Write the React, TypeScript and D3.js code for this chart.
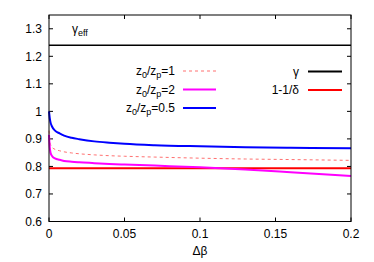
import React from 'react';
import * as d3 from 'd3';

// Δβ sample points and the three gamma_eff curves
const deltaBeta = [0, 0.0005, 0.001, 0.002, 0.004, 0.007, 0.01, 0.015, 0.02, 0.03, 0.04, 0.05, 0.07, 0.1, 0.13, 0.16, 0.2];
const ratio1 = [0.93, 0.895, 0.88, 0.87, 0.862, 0.857, 0.853, 0.849, 0.846, 0.842, 0.839, 0.837, 0.834, 0.83, 0.827, 0.825, 0.822];
const ratio2 = [0.915, 0.87, 0.85, 0.838, 0.829, 0.824, 0.82, 0.817, 0.815, 0.812, 0.809, 0.807, 0.803, 0.797, 0.789, 0.779, 0.765];
const ratio05 = [1.0, 0.975, 0.96, 0.945, 0.93, 0.92, 0.912, 0.904, 0.899, 0.891, 0.886, 0.882, 0.877, 0.873, 0.87, 0.868, 0.866];
const gammaValue = 1.24;
const oneMinusInvDelta = 0.793;

const xTicks = [0, 0.05, 0.1, 0.15, 0.2];
const yTicks = [0.6, 0.7, 0.8, 0.9, 1, 1.1, 1.2, 1.3];

const W = 374;
const H = 262;
const margin = { top: 15, right: 23, bottom: 40.5, left: 49 };
const font = '"Liberation Sans", Arial, sans-serif';

const App = () => {
  const x = d3.scaleLinear().domain([0, 0.2]).range([margin.left, W - margin.right]);
  const y = d3.scaleLinear().domain([0.6, 1.35]).range([H - margin.bottom, margin.top]);
  const [x0, x1] = x.range();
  const [y0, y1] = y.range();

  const line = d3.line<number>()
    .x((_, i) => x(deltaBeta[i]))
    .y(d => y(d))
    .curve(d3.curveMonotoneX);

  const fmt = (v: number) => (v === 0 ? '0' : d3.format('')(+v.toFixed(2)));

  // left legend entries (curves), right legend entries (constants)
  const leftLegend = [
    { sub: '1', color: '#ff7070', width: 1, dash: '3,3', yy: 71 },
    { sub: '2', color: '#ff00ff', width: 2, dash: null, yy: 89.5 },
    { sub: '0.5', color: '#0000ff', width: 2, dash: null, yy: 108 },
  ];
  const rightLegend = [
    { label: 'γ', color: '#000', yy: 71.5 },
    { label: '1-1/δ', color: '#ff0000', yy: 90 },
  ];

  return (
    <svg width={W} height={H} style={{ position: 'absolute', left: 0, top: 0, background: '#fff' }}
      fontFamily={font} fontSize={12}>
      {/* ticks, mirrored on all sides, pointing inward */}
      {yTicks.map(t => (
        <g key={'y' + t}>
          <line x1={x0} x2={x0 + 4} y1={y(t)} y2={y(t)} stroke="#000" />
          <line x1={x1} x2={x1 - 4} y1={y(t)} y2={y(t)} stroke="#000" />
          <text x={x0 - 7} y={y(t)} dy="0.35em" textAnchor="end">{fmt(t)}</text>
        </g>
      ))}
      {xTicks.map(t => (
        <g key={'x' + t}>
          <line x1={x(t)} x2={x(t)} y1={y0} y2={y0 - 4} stroke="#000" />
          <line x1={x(t)} x2={x(t)} y1={y1} y2={y1 + 4} stroke="#000" />
          <text x={x(t)} y={y0 + 16.5} textAnchor="middle">{fmt(t)}</text>
        </g>
      ))}

      {/* horizontal reference lines */}
      <line x1={x0} x2={x1} y1={y(gammaValue)} y2={y(gammaValue)} stroke="#000" strokeWidth={1.5} />
      <line x1={x0} x2={x1} y1={y(oneMinusInvDelta)} y2={y(oneMinusInvDelta)} stroke="#ff0000" strokeWidth={2} />

      {/* curves */}
      <path d={line(ratio1) || ''} fill="none" stroke="#ff7070" strokeWidth={1} strokeDasharray="3,3" />
      <path d={line(ratio2) || ''} fill="none" stroke="#ff00ff" strokeWidth={2} />
      <path d={line(ratio05) || ''} fill="none" stroke="#0000ff" strokeWidth={2} />

      {/* frame */}
      <rect x={x0} y={y1} width={x1 - x0} height={y0 - y1} fill="none" stroke="#000" strokeWidth={1} />

      {/* gamma_eff label */}
      <text x={72} y={33}>γ<tspan fontSize={9} dy={3}>eff</tspan></text>

      {/* legend */}
      {leftLegend.map(d => (
        <g key={d.sub}>
          <text x={175} y={d.yy} dy="0.35em" textAnchor="end">
            z<tspan fontSize={9} dy={3}>0</tspan><tspan dy={-3}>/z</tspan><tspan fontSize={9} dy={3}>p</tspan><tspan dy={-3}>={d.sub}</tspan>
          </text>
          <line x1={183} x2={216} y1={d.yy} y2={d.yy} stroke={d.color} strokeWidth={d.width}
            strokeDasharray={d.dash || undefined} />
        </g>
      ))}
      {rightLegend.map(d => (
        <g key={d.label}>
          <text x={299} y={d.yy} dy="0.35em" textAnchor="end">{d.label}</text>
          <line x1={308} x2={342} y1={d.yy} y2={d.yy} stroke={d.color} strokeWidth={2} />
        </g>
      ))}

      {/* x-axis title */}
      <text x={200} y={255} textAnchor="middle">Δβ</text>
    </svg>
  );
};

export default App;
